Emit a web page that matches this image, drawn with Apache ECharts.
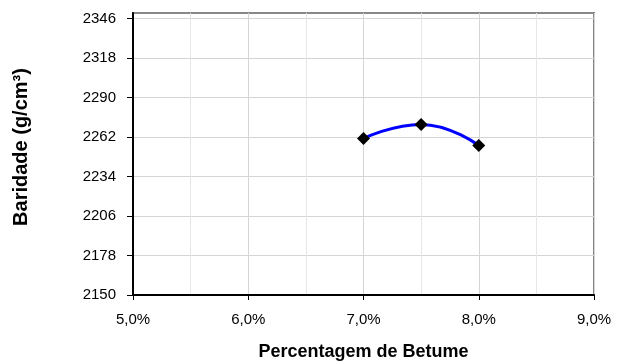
<!DOCTYPE html>
<html><head><meta charset="utf-8">
<script src="https://cdn.jsdelivr.net/npm/echarts@6/dist/echarts.min.js"></script>
<style>html,body{margin:0;padding:0;background:#fff}#c{width:624px;height:362px}</style>
</head><body><div id="c"></div>
<script>
const xValues = [7.0, 7.5, 8.0];
const yValues = [2261, 2271, 2256];
const xTicks = [5, 6, 7, 8, 9];
const yTicks = [2150, 2178, 2206, 2234, 2262, 2290, 2318, 2346];

const chart = echarts.init(document.getElementById('c'));
const font = 'Liberation Sans, Arial, sans-serif';
chart.setOption({
  animation: false,
  grid: {left: 133, right: 30, top: 13, bottom: 67, outerBoundsMode: 'none', containLabel: false,
    show: true, borderColor: '#888', borderWidth: 2, backgroundColor: '#fff'},
  xAxis: {
    type: 'value', min: xTicks[0], max: xTicks[xTicks.length-1], interval: 1,
    name: 'Percentagem de Betume', nameLocation: 'middle', nameGap: 48,
    nameTextStyle: {fontFamily: font, fontWeight: 'bold', fontSize: 18, color: '#000'},
    axisLine: {show: true, onZero: false, lineStyle: {color: '#000', width: 2}},
    axisTick: {show: true, length: 5, lineStyle: {color: '#000'}},
    axisLabel: {fontFamily: font, fontSize: 15, color: '#000', margin: 17,
      formatter: v => v.toFixed(1).replace('.', ',') + '%'},
    splitLine: {show: true, lineStyle: {color: '#d4d4d4', width: 1}},
    minorTick: {show: false, splitNumber: 2},
    minorSplitLine: {show: true, lineStyle: {color: '#e6e6e6', width: 1}}
  },
  yAxis: {
    type: 'value', min: yTicks[0], max: 2350, interval: 28,
    name: 'Baridade (g/cm³)', nameLocation: 'middle', nameGap: 102, nameRotate: 90,
    nameTextStyle: {fontFamily: font, fontWeight: 'bold', fontSize: 20, color: '#000', padding: [0, 0, 0, 14]},
    axisLine: {show: true, lineStyle: {color: '#000', width: 2}},
    axisTick: {show: true, length: 6, lineStyle: {color: '#000'}, customValues: yTicks},
    axisLabel: {fontFamily: font, fontSize: 15, color: '#000', margin: 17, customValues: yTicks,
      formatter: v => String(v)},
    splitLine: {show: true, lineStyle: {color: '#d4d4d4', width: 1}}
  },
  series: [{
    type: 'line',
    data: xValues.map((x, i) => [x, yValues[i]]),
    smooth: 0.5,
    symbol: 'diamond', symbolSize: 13,
    itemStyle: {color: '#000'},
    lineStyle: {color: '#0000ff', width: 3},
    z: 5
  }]
});
</script></body></html>
